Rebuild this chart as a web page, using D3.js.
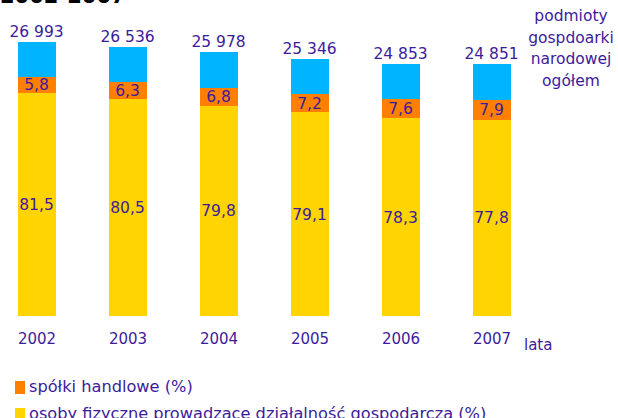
<!DOCTYPE html>
<meta charset="utf-8">
<style>
    body { margin: 0; background: #fff; }
    text { font-family: "DejaVu Sans", Verdana, sans-serif; fill: #3b1c9c; }
    rect { shape-rendering: crispEdges; }
    .title { font-weight: bold; fill: #000; }
</style>
<svg width="618" height="418"></svg>
<script src="https://cdn.jsdelivr.net/npm/d3@7"></script>
<script>

    var years = ["2002", "2003", "2004", "2005", "2006", "2007"];
    var totals = [26993, 26536, 25978, 25346, 24853, 24851];
    var osoby = [81.5, 80.5, 79.8, 79.1, 78.3, 77.8];     // osoby fizyczne (%)
    var spolki = [5.8, 6.3, 6.8, 7.2, 7.6, 7.9];          // spółki handlowe (%)
    var totalLabels = ["26 993", "26 536", "25 978", "25 346", "24 853", "24 851"];
    var rightLabel = ["podmioty", "gospdoarki", "narodowej", "ogółem"];
    var legendItems = ["spółki handlowe (%)", "osoby fizyczne prowadzące działalność gospodarczą (%)"];

    var colors = { rest: "#00b4ff", spolki: "#ff8000", osoby: "#ffd400" };

    var svg = d3.select("svg");

    var x = d3.scalePoint().domain(years).range([36.5, 491.5]);
    var y = d3.scaleLinear().domain([0, 27000]).range([316, 41.9]);
    var bw = 38;

    var fmt = function(v) { return String(v).replace(".", ","); };

    var data = years.map(function(yr, i) {
        var a = totals[i] * osoby[i] / 100,
            b = totals[i] * spolki[i] / 100;
        return { year: yr, total: totals[i], label: totalLabels[i],
                 osoby: osoby[i], spolki: spolki[i], a: a, b: b };
    });

    // title (cut off at top in the original)
    svg.append("text").attr("class", "title")
        .attr("x", 0).attr("y", 3)
        .style("font-size", "21px")
        .text("2002-2007");

    var g = svg.append("g");

    var bar = g.selectAll(".bar")
        .data(data)
        .enter().append("g")
        .attr("class", "bar");

    // blue: total
    bar.append("rect")
        .attr("x", function(d) { return x(d.year) - bw / 2; })
        .attr("width", bw)
        .attr("y", function(d) { return y(d.total); })
        .attr("height", function(d) { return y(0) - y(d.total); })
        .attr("fill", colors.rest);

    // orange
    bar.append("rect")
        .attr("x", function(d) { return x(d.year) - bw / 2; })
        .attr("width", bw)
        .attr("y", function(d) { return y(d.a + d.b); })
        .attr("height", function(d) { return y(d.a) - y(d.a + d.b); })
        .attr("fill", colors.spolki);

    // yellow
    bar.append("rect")
        .attr("x", function(d) { return x(d.year) - bw / 2; })
        .attr("width", bw)
        .attr("y", function(d) { return y(d.a); })
        .attr("height", function(d) { return y(0) - y(d.a); })
        .attr("fill", colors.osoby);

    bar.append("text")
        .attr("x", function(d) { return x(d.year); })
        .attr("y", function(d) { return y(d.total) - 5; })
        .attr("text-anchor", "middle")
        .style("font-size", "15.5px")
        .text(function(d) { return d.label; });

    bar.append("text")
        .attr("x", function(d) { return x(d.year); })
        .attr("y", function(d) { return (y(d.a) + y(d.a + d.b)) / 2; })
        .attr("dy", "0.36em")
        .attr("text-anchor", "middle")
        .style("font-size", "15.5px")
        .text(function(d) { return fmt(d.spolki); });

    bar.append("text")
        .attr("x", function(d) { return x(d.year); })
        .attr("y", function(d) { return (y(0) + y(d.a)) / 2; })
        .attr("dy", "0.36em")
        .attr("text-anchor", "middle")
        .style("font-size", "15.5px")
        .text(function(d) { return fmt(d.osoby); });

    // x axis labels
    var xAxis = svg.append("g")
        .attr("transform", "translate(0,316)")
        .call(d3.axisBottom(x).tickSize(0).tickPadding(16));
    xAxis.select(".domain").remove();
    xAxis.selectAll("text")
        .attr("dy", null)
        .attr("y", 28)
        .style("font-size", "15px")
        .style("font-family", "'DejaVu Sans', Verdana, sans-serif")
        .attr("fill", "#3b1c9c");

    svg.append("text")
        .attr("x", 524).attr("y", 350)
        .style("font-size", "15px")
        .text("lata");

    // right label
    svg.append("text")
        .attr("text-anchor", "middle")
        .style("font-size", "15.5px")
        .selectAll("tspan")
        .data(rightLabel)
        .enter().append("tspan")
        .attr("x", 571)
        .attr("y", function(d, i) { return 21 + i * 21.7; })
        .text(function(d) { return d; });

    // legend
    var legColors = [colors.spolki, colors.osoby];
    var leg = svg.selectAll(".leg")
        .data(legendItems)
        .enter().append("g")
        .attr("class", "leg")
        .attr("transform", function(d, i) { return "translate(15," + (381 + i * 26.6) + ")"; });

    leg.append("rect")
        .attr("width", 10).attr("height", 12.5)
        .attr("fill", function(d, i) { return legColors[i]; });

    leg.append("text")
        .attr("x", 14).attr("y", 11)
        .style("font-size", "16.2px")
        .text(function(d) { return d; });

</script>
